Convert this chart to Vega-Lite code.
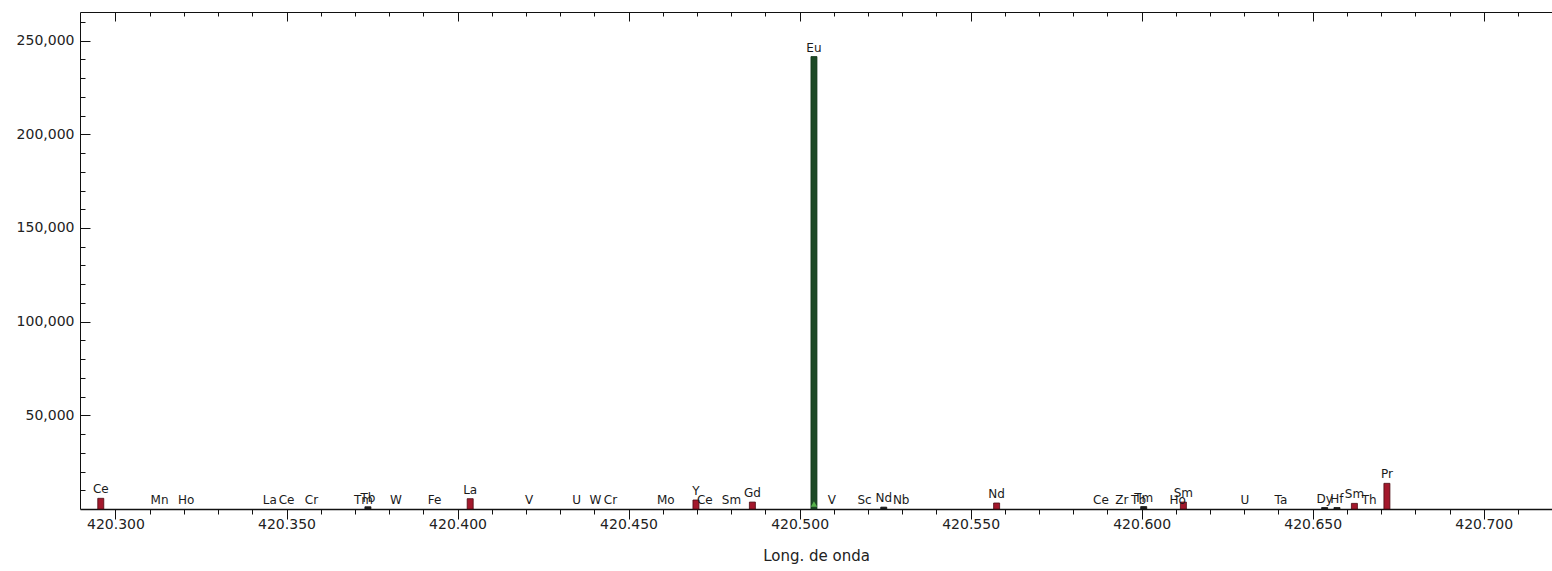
{
  "$schema": "https://vega.github.io/schema/vega-lite/v6.json",
  "width": 1472,
  "height": 497,
  "autosize": {"type": "none"},
  "padding": {"left": 80, "top": 12, "right": 0, "bottom": 62},
  "background": "white",
  "config": {
    "view": {"stroke": null},
    "font": "DejaVu Sans",
    "axis": {"grid": false, "labelFont": "DejaVu Sans", "titleFont": "DejaVu Sans", "tickColor": "#111", "domainColor": "#111", "labelColor": "#222", "titleColor": "#222", "titleFontWeight": "normal"}
  },
  "data": {"values": [
    {"el": "Ce", "wl": 420.2957, "int": 5700, "kind": "red"},
    {"el": "Mn", "wl": 420.3129, "int": 0, "kind": "none"},
    {"el": "Ho", "wl": 420.3207, "int": 0, "kind": "none"},
    {"el": "La", "wl": 420.3451, "int": 0, "kind": "none"},
    {"el": "Ce", "wl": 420.3500, "int": 0, "kind": "none"},
    {"el": "Cr", "wl": 420.3573, "int": 0, "kind": "none"},
    {"el": "Tm", "wl": 420.3725, "int": 0, "kind": "none"},
    {"el": "Tb", "wl": 420.3738, "int": 1200, "kind": "black"},
    {"el": "W", "wl": 420.3820, "int": 0, "kind": "none"},
    {"el": "Fe", "wl": 420.3933, "int": 0, "kind": "none"},
    {"el": "La", "wl": 420.4037, "int": 5500, "kind": "red"},
    {"el": "V", "wl": 420.4209, "int": 0, "kind": "none"},
    {"el": "U", "wl": 420.4348, "int": 0, "kind": "none"},
    {"el": "W", "wl": 420.4403, "int": 0, "kind": "none"},
    {"el": "Cr", "wl": 420.4447, "int": 0, "kind": "none"},
    {"el": "Mo", "wl": 420.4609, "int": 0, "kind": "none"},
    {"el": "Ce", "wl": 420.4723, "int": 0, "kind": "none"},
    {"el": "Y", "wl": 420.4697, "int": 4800, "kind": "red"},
    {"el": "Sm", "wl": 420.4801, "int": 0, "kind": "none"},
    {"el": "Gd", "wl": 420.4862, "int": 3700, "kind": "red"},
    {"el": "Eu", "wl": 420.5042, "int": 241500, "kind": "eu"},
    {"el": "V", "wl": 420.5094, "int": 0, "kind": "none"},
    {"el": "Sc", "wl": 420.5190, "int": 0, "kind": "none"},
    {"el": "Nd", "wl": 420.5246, "int": 1000, "kind": "black"},
    {"el": "Nb", "wl": 420.5297, "int": 0, "kind": "none"},
    {"el": "Nd", "wl": 420.5576, "int": 3200, "kind": "red"},
    {"el": "Ce", "wl": 420.5881, "int": 0, "kind": "none"},
    {"el": "Zr", "wl": 420.5942, "int": 0, "kind": "none"},
    {"el": "Tb", "wl": 420.5991, "int": 0, "kind": "none"},
    {"el": "Tm", "wl": 420.6006, "int": 1300, "kind": "black"},
    {"el": "Ho", "wl": 420.6105, "int": 0, "kind": "none"},
    {"el": "Sm", "wl": 420.6122, "int": 3700, "kind": "red"},
    {"el": "U", "wl": 420.6302, "int": 0, "kind": "none"},
    {"el": "Ta", "wl": 420.6407, "int": 0, "kind": "none"},
    {"el": "Dy", "wl": 420.6535, "int": 800, "kind": "black"},
    {"el": "Hf", "wl": 420.6571, "int": 800, "kind": "black"},
    {"el": "Sm", "wl": 420.6622, "int": 3000, "kind": "red"},
    {"el": "Th", "wl": 420.6665, "int": 0, "kind": "none"},
    {"el": "Pr", "wl": 420.6717, "int": 13700, "kind": "red"}
  ]},
  "resolve": {"axis": {"x": "independent", "y": "independent"}},
  "layer": [
    {
      "transform": [{"filter": "datum.int > 0"}],
      "mark": {"type": "bar", "size": 6, "strokeWidth": 0.8},
      "encoding": {
        "x": {"field": "wl", "type": "quantitative",
              "scale": {"domain": [420.29109, 420.7185], "nice": false, "zero": false},
              "axis": {"orient": "bottom", "values": [420.3, 420.35, 420.4, 420.45, 420.5, 420.55, 420.6, 420.65, 420.7],
                       "format": ".3f", "tickSize": 10, "labelFontSize": 14, "labelPadding": -2,
                       "title": "Long. de onda", "titleFontSize": 15, "titlePadding": 17, "domain": true, "domainWidth": 1.5}},
        "y": {"field": "int", "type": "quantitative",
              "scale": {"domain": [0, 265300], "nice": false, "zero": true},
              "axis": {"orient": "left", "values": [50000, 100000, 150000, 200000, 250000],
                       "format": ",d", "tickSize": -10, "labelPadding": 16, "labelFontSize": 14, "title": null, "domain": true}},
        "color": {"field": "kind", "type": "nominal", "legend": null,
                  "scale": {"domain": ["eu", "red", "black"], "range": ["#1d4a26", "#a3182c", "#222222"]}},
        "stroke": {"field": "kind", "type": "nominal", "legend": null,
                  "scale": {"domain": ["eu", "red", "black"], "range": ["#123619", "#4a0a12", "#111111"]}}
      }
    },
    {
      "mark": {"type": "text", "baseline": "bottom", "dy": -2, "fontSize": 12, "color": "#1a1a1a"},
      "encoding": {
        "x": {"field": "wl", "type": "quantitative",
              "scale": {"domain": [420.29109, 420.7185], "nice": false, "zero": false},
              "axis": {"orient": "bottom", "values": [420.31, 420.32, 420.33, 420.34, 420.36, 420.37, 420.38, 420.39, 420.41, 420.42, 420.43, 420.44, 420.46, 420.47, 420.48, 420.49, 420.51, 420.52, 420.53, 420.54, 420.56, 420.57, 420.58, 420.59, 420.61, 420.62, 420.63, 420.64, 420.66, 420.67, 420.68, 420.69, 420.71],
                       "tickSize": 5, "labels": false, "title": null, "domain": false}},
        "y": {"field": "int", "type": "quantitative",
              "scale": {"domain": [0, 265300], "nice": false, "zero": true},
              "axis": {"orient": "left", "values": [10000, 20000, 30000, 40000, 60000, 70000, 80000, 90000, 110000, 120000, 130000, 140000, 160000, 170000, 180000, 190000, 210000, 220000, 230000, 240000, 260000],
                       "tickSize": -5, "labels": false, "title": null, "domain": false}},
        "text": {"field": "el"}
      }
    },
    {
      "transform": [{"filter": "datum.kind === 'eu'"}],
      "mark": {"type": "point", "shape": "triangle-up", "filled": true, "size": 40, "color": "#6fe05a", "yOffset": -5},
      "encoding": {
        "x": {"field": "wl", "type": "quantitative",
              "scale": {"domain": [420.29109, 420.7185], "nice": false, "zero": false},
              "axis": {"orient": "top", "values": [420.3, 420.35, 420.4, 420.45, 420.5, 420.55, 420.6, 420.65, 420.7],
                       "tickSize": -9, "labels": false, "title": null, "domain": true}},
        "y": {"datum": 0, "type": "quantitative", "scale": {"domain": [0, 265300], "nice": false, "zero": true}, "axis": null}
      }
    },
    {
      "mark": {"type": "point", "opacity": 0},
      "encoding": {
        "x": {"field": "wl", "type": "quantitative",
              "scale": {"domain": [420.29109, 420.7185], "nice": false, "zero": false},
              "axis": {"orient": "top", "values": [420.31, 420.32, 420.33, 420.34, 420.36, 420.37, 420.38, 420.39, 420.41, 420.42, 420.43, 420.44, 420.46, 420.47, 420.48, 420.49, 420.51, 420.52, 420.53, 420.54, 420.56, 420.57, 420.58, 420.59, 420.61, 420.62, 420.63, 420.64, 420.66, 420.67, 420.68, 420.69, 420.71],
                       "tickSize": -4, "labels": false, "title": null, "domain": false}},
        "y": {"field": "int", "type": "quantitative", "scale": {"domain": [0, 265300], "nice": false, "zero": true}, "axis": null}
      }
    }
  ]
}
